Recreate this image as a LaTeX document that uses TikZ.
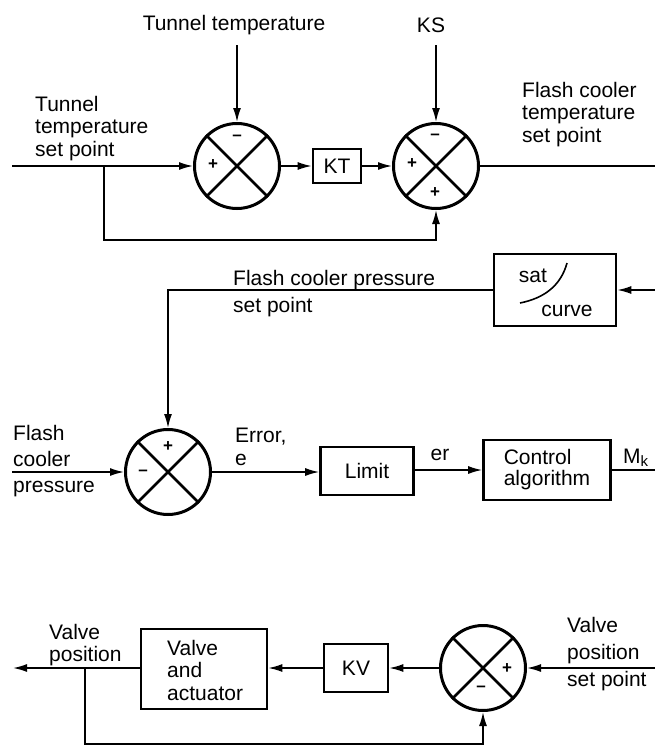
\documentclass[tikz,border=0pt]{standalone}
\usepackage{fontspec}
\setmainfont{Liberation Sans}
\usetikzlibrary{arrows.meta}
\begin{document}
\begin{tikzpicture}[x=1pt,y=-1pt,
  txt/.style={font=\fontsize{21}{22.5}\selectfont, inner sep=0pt, align=left},
  sgn/.style={font=\fontsize{17}{17}\selectfont\bfseries, inner sep=0pt},
  summer/.style={circle, draw, line width=3pt, minimum size=85pt, inner sep=0pt},
  blk/.style={draw, line width=2.6pt, inner sep=0pt, font=\fontsize{21}{21}\selectfont, align=center},
  conn/.style={line width=1.6pt},
  arr/.style={conn, -{Latex[length=14pt,width=8pt]}},
  xline/.style={line width=2.6pt}]
\useasboundingbox (0,0) rectangle (655,747);

% ---------------- top section ----------------
\node[summer] (s1) at (237,166) {};
\node[summer] (s2) at (436,166) {};
\node[blk, minimum width=48pt, minimum height=34pt] (kt) at (337,166) {KT};
\foreach \s in {s1,s2}{
  \draw[xline] (\s.45) -- (\s.225);
  \draw[xline] (\s.135) -- (\s.-45);
}
\node[sgn] (s1m) at (237,138) {–};
\node[sgn] (s1p) at (213,165) {+};
\node[sgn] (s2m) at (435,137) {–};
\node[sgn] (s2p) at (412,164) {+};
\node[sgn] (s2b) at (435,193) {+};

\node[txt, anchor=north] (lbltt) at (234,15) {Tunnel temperature};
\node[txt, anchor=north] (lblks) at (431,18) {KS};
\node[txt, anchor=north west] (lbltsp) at (35,96) {Tunnel\\temperature\\set point};
\node[txt, anchor=north west] (lblfct) at (522,82) {Flash cooler\\temperature\\set point};

\coordinate (tti) at (237,45);
\coordinate (ksi) at (436,45);
\coordinate (in1) at (12,166);
\coordinate (br1) at (104,166);
\coordinate (fb1) at (104,240);
\coordinate (out1) at (655,166);

\draw[arr] (tti) -- (s1.north);
\draw[arr] (ksi) -- (s2.north);
\draw[arr] (in1) -- (s1.west);
\draw[arr] (s1.east) -- (kt.west);
\draw[arr] (kt.east) -- (s2.west);
\draw[arr] (br1) -- (fb1) -| (s2.south);
\draw[conn] (s2.east) -- (out1);

% ---------------- middle section ----------------
\node[blk, minimum width=122pt, minimum height=72pt] (sat) at (555,290) {};
\node[txt, anchor=base] (sattxt) at (533,282) {sat};
\node[txt, anchor=base] (curvetxt) at (567,316) {curve};
\draw[line width=1.6pt] (520,303) .. controls (545,298) and (561,285) .. (567,263);
\coordinate (satin) at (655,290);
\draw[arr] (satin) -- (sat.east);

\node[summer] (s3) at (168,472) {};
\draw[xline] (s3.45) -- (s3.225);
\draw[xline] (s3.135) -- (s3.-45);
\node[sgn] (s3p) at (168,447) {+};
\node[sgn] (s3m) at (143,473) {–};

\node[txt, anchor=north west, font=\fontsize{21}{27}\selectfont] (lblfcp) at (233,270) {Flash cooler pressure\\set point};
\node[txt, anchor=north west, font=\fontsize{21}{26}\selectfont] (lblfc) at (13,425) {Flash\\cooler\\pressure};
\node[txt, anchor=north west] (lblerr) at (235,428) {Error,\\e};

\draw[arr] (sat.west) -| (s3.north);
\coordinate (fcp) at (12,472);
\draw[arr] (fcp) -- (s3.west);

\node[blk, minimum width=93pt, minimum height=48pt] (lim) at (367,471) {Limit};
\node[blk, minimum width=127pt, minimum height=60pt, font=\fontsize{21}{21}\selectfont, align=left] (ctrl) at (547,470) {Control\\algorithm};
\draw[arr] (s3.east) -- (s3.east -| lim.west);
\draw[arr] (lim.east |- ctrl.west) -- (ctrl.west);
\node[txt, anchor=base] (lbler) at (440,460) {er};
\node[txt, anchor=base west] (lblmk) at (623,463) {M\raisebox{-3pt}{\fontsize{15}{15}\selectfont k}};
\coordinate (mk) at (655,470);
\draw[conn] (ctrl.east) -- (mk);

% ---------------- bottom section ----------------
\node[summer] (s4) at (483,668) {};
\draw[xline] (s4.45) -- (s4.225);
\draw[xline] (s4.135) -- (s4.-45);
\node[sgn] (s4p) at (507,669) {+};
\node[sgn] (s4m) at (481,689) {–};

\node[blk, minimum width=64pt, minimum height=48pt] (kv) at (356,668) {KV};
\node[blk, minimum width=126pt, minimum height=80pt] (valve) at (204,669) {};
\node[txt, anchor=north west] (valvetxt) at (167,640) {Valve\\and\\actuator};

\node[txt, anchor=north west, font=\fontsize{21}{22}\selectfont] (lblvp) at (49,624) {Valve\\position};
\node[txt, anchor=north west, font=\fontsize{21}{27}\selectfont] (lblvsp) at (567,617) {Valve\\position\\set point};

\coordinate (vps) at (655,668);
\coordinate (vout) at (13,668);
\coordinate (br2) at (85,668);
\coordinate (fb2) at (85,744);
\draw[arr] (vps) -- (s4.east);
\draw[arr] (s4.west) -- (kv.east);
\draw[arr] (kv.west) -- (kv.west -| valve.east);
\draw[arr] (valve.west |- vout) -- (vout);
\draw[arr] (br2) -- (fb2) -| (s4.south);
\end{tikzpicture}
\end{document}
